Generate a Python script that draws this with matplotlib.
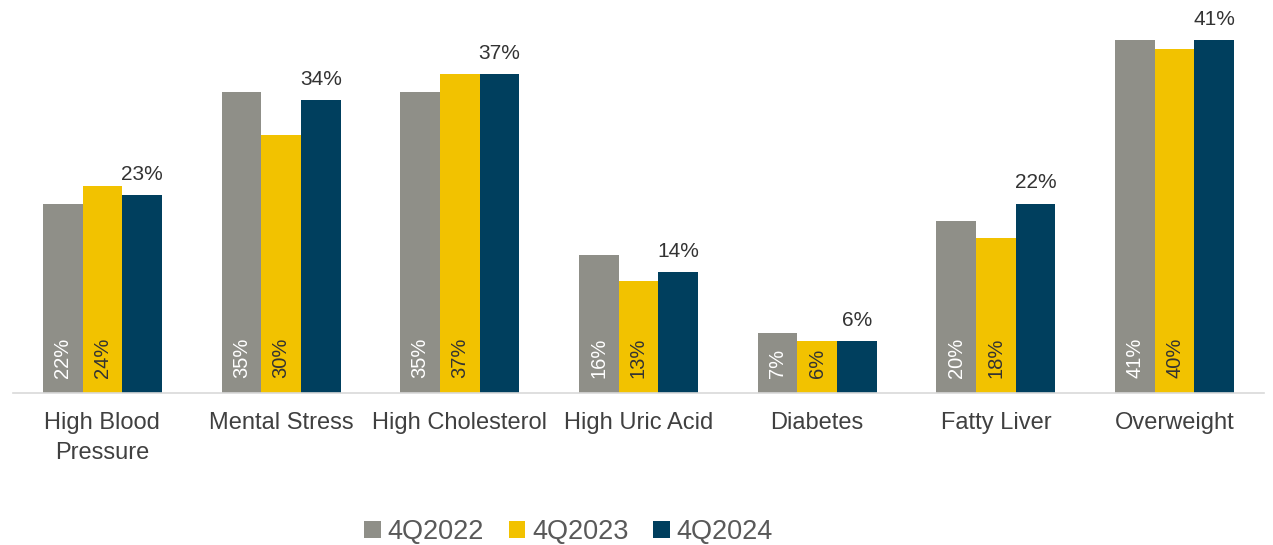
import matplotlib
matplotlib.use("Agg")
import matplotlib.pyplot as plt
import numpy as np

plt.rcParams['font.family'] = ['Liberation Sans', 'DejaVu Sans']

categories = ["High Blood\nPressure", "Mental Stress", "High Cholesterol",
              "High Uric Acid", "Diabetes", "Fatty Liver", "Overweight"]
q2022 = [22, 35, 35, 16, 7, 20, 41]
q2023 = [24, 30, 37, 13, 6, 18, 40]
q2024 = [23, 34, 37, 14, 6, 22, 41]
series_names = ["4Q2022", "4Q2023", "4Q2024"]

c_gray = "#8F8F88"
c_yellow = "#F2C200"
c_navy = "#003F5E"

fig = plt.figure(figsize=(12.73, 5.45), dpi=100)
ax = fig.add_axes([0.0102, 0.279, 0.9827, 0.711])

x = np.arange(len(categories))
w = 0.222

b1 = ax.bar(x - w, q2022, w, color=c_gray, label=series_names[0])
b2 = ax.bar(x, q2023, w, color=c_yellow, label=series_names[1])
b3 = ax.bar(x + w, q2024, w, color=c_navy, label=series_names[2])

# values inside the bars, written upwards from the base
for xi, v in zip(x - w, q2022):
    ax.text(xi, 1.7, f"{v}%", rotation=90, ha="center", va="bottom",
            color="white", fontsize=14.5)
for xi, v in zip(x, q2023):
    ax.text(xi, 1.7, f"{v}%", rotation=90, ha="center", va="bottom",
            color="#333333", fontsize=14.5)
# latest year labelled on top
for xi, v in zip(x + w, q2024):
    ax.text(xi, v + 1.3, f"{v}%", ha="center", va="bottom",
            color="#333333", fontsize=15)

ax.set_xlim(-0.5, len(categories) - 0.5)
ax.set_ylim(0, 45)
ax.set_xticks(x)
ax.set_xticklabels(categories, fontsize=17, color="#404040", linespacing=1.45)
ax.tick_params(axis="x", length=0, pad=14)
ax.set_yticks([])
for s in ["top", "left", "right"]:
    ax.spines[s].set_visible(False)
ax.spines["bottom"].set_color("#D9D9D9")
ax.spines["bottom"].set_linewidth(1.2)

fig.legend(handles=[b1, b2, b3], labels=series_names, loc="center",
           bbox_to_anchor=(0.4466, 0.024), ncol=3, frameon=False,
           fontsize=19.5, handlelength=0.62, handleheight=0.62,
           handletextpad=0.25, columnspacing=0.9, labelcolor="#595959")

fig.savefig("out.png", dpi=100)
